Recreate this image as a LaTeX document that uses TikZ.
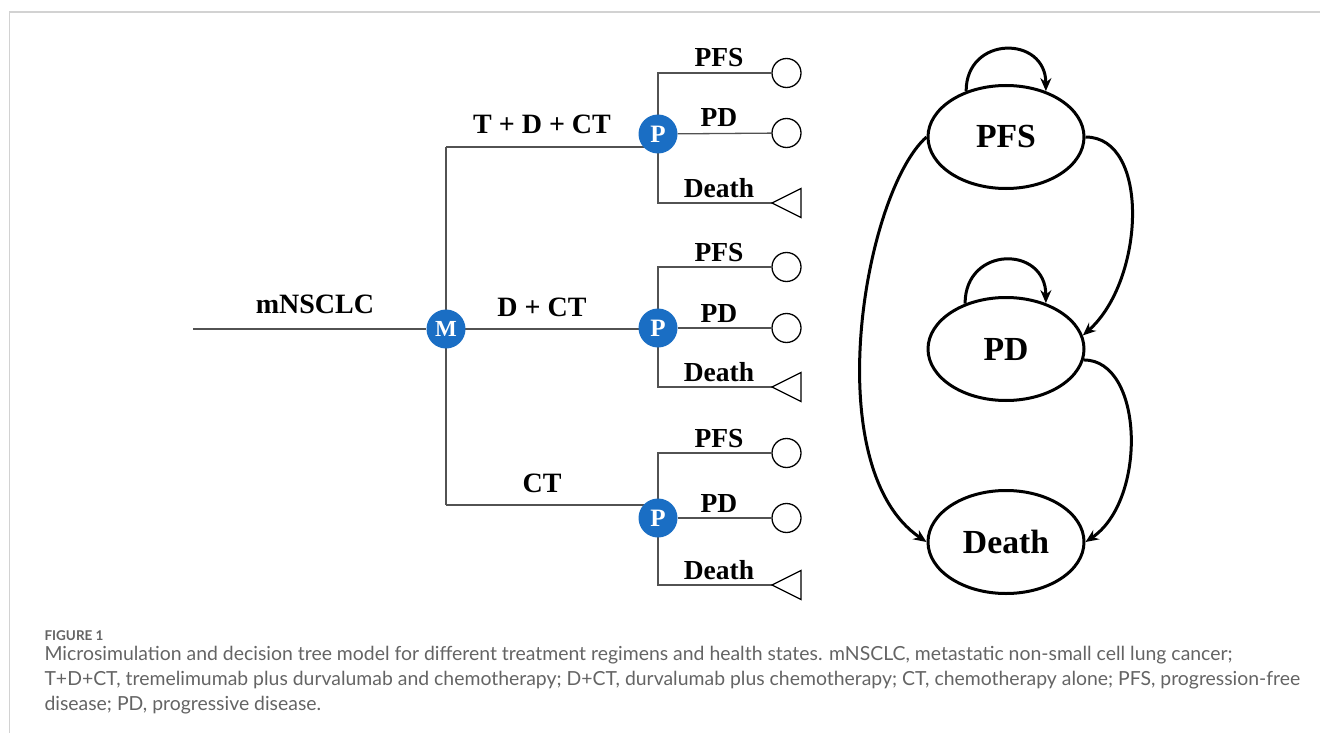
\documentclass[tikz,border=0pt]{standalone}
\usepackage{fontspec}
\setmainfont{Liberation Serif}
\newfontfamily\capfont{Lato}
\usetikzlibrary{arrows.meta,shapes.geometric,backgrounds}
\definecolor{nodeblue}{RGB}{26,110,196}
\definecolor{capgray}{RGB}{100,100,100}
\definecolor{framegray}{RGB}{210,210,210}
\begin{document}
\begin{tikzpicture}[x=1pt,y=-1pt,
  tree/.style={draw=black!68,line width=1.3pt},
  chance/.style={circle,fill=nodeblue,minimum size=39pt,inner sep=0pt,text=white,font=\bfseries\fontsize{25}{25}\selectfont},
  term/.style={circle,draw=black,line width=1.3pt,fill=white,minimum size=29pt,inner sep=0pt},
  termtri/.style={draw=black,line width=1.3pt,fill=white},
  olbl/.style={anchor=base,font=\bfseries\fontsize{27.5}{28}\selectfont},
  blbl/.style={anchor=base,font=\bfseries\fontsize{28}{28}\selectfont},
  state/.style={ellipse,draw,line width=3pt,minimum width=156pt,minimum height=103pt,inner sep=0pt,font=\bfseries\fontsize{33.7}{34}\selectfont},
  trans/.style={line width=3pt,-{Stealth[length=13pt,width=11pt]}},
  captxt/.style={anchor=base west,text=capgray,font=\capfont\fontsize{19.4}{19.4}\selectfont},
]
\useasboundingbox (0,0) rectangle (1320,733);
% frame
\draw[framegray,line width=1.5pt] (9.3,733) -- (9.3,12) -- (1320,12);

% decision tree
\coordinate (root) at (193,329);
\node[chance,font=\bfseries\fontsize{23}{23}\selectfont] (M) at (446,329) {M};
\node[blbl] (mlab) at (315,313) {mNSCLC};
\coordinate (j1) at (446,147);
\coordinate (j3) at (446,505);

\foreach \i/\yp/\ya/\yb/\yc/\yin/\lab in {1/134/73/133/203/147/{T + D + CT},2/328/267/328/387/329/{D + CT},3/518/453/518/585/505/{CT}}{
  \node[chance] (P\i) at (658,\yp) {P};
  \node[term] (pfs\i) at (786.5,\ya) {};
  \node[term] (pd\i) at (786.5,\yb) {};
  \coordinate (d\i) at (772,\yc);
  \coordinate (in\i) at (446,\yin);
  \draw[termtri] (d\i) -- ++(29,-14.5) -- ++(0,29) -- cycle;
  \node[olbl] (lpfs\i) at (719,\ya-6) {PFS};
  \node[olbl] (lpd\i) at (719,\yb-6) {PD};
  \node[olbl] (ld\i) at (719,\yc-6) {Death};
  \node[blbl] (br\i) at (542,\yin-13) {\lab};
  \begin{pgfonlayer}{background}
    \draw[tree] (pfs\i) -| (P\i.center) |- (d\i);
    \draw[tree] (P\i) -- (pd\i);
    \draw[tree] (in\i) -- (in\i -| P\i);
  \end{pgfonlayer}
}
\begin{pgfonlayer}{background}
  \draw[tree] (root) -- (M);
  \draw[tree] (j1) -- (j3);
\end{pgfonlayer}

% Markov model
\node[state] (S1) at (1006,137) {PFS};
\node[state] (S2) at (1006,349) {PD};
\node[state] (S3) at (1006,542) {Death};
\draw[trans] (S1.131) .. controls +(0,-56) and +(0,-56) .. (S1.49);
\draw[trans] (S2.132) .. controls +(0,-58) and +(0,-58) .. (S2.49);
\draw[trans] (S1.east) .. controls +(65,0) and +(62,-55) .. (S2.10);
\draw[trans] (S2.-8) .. controls +(60,0) and +(62,-42) .. (S3.0);
\draw[trans] (S1.west) .. controls +(-62,55) and +(-110,-75) .. (S3.180);

% caption
\node[anchor=base west,text=capgray,font=\capfont\bfseries\fontsize{13.5}{13.5}\selectfont] (fig) at (41,640) {FIGURE 1};
\node[captxt] (c1) at (41,660) {Microsimulation and decision tree model for different treatment regimens and health states. mNSCLC, metastatic non-small cell lung cancer;};
\node[captxt] (c2) at (41,685) {T+D+CT, tremelimumab plus durvalumab and chemotherapy; D+CT, durvalumab plus chemotherapy; CT, chemotherapy alone; PFS, progression-free};
\node[captxt] (c3) at (41,710) {disease; PD, progressive disease.};
\end{tikzpicture}
\end{document}
